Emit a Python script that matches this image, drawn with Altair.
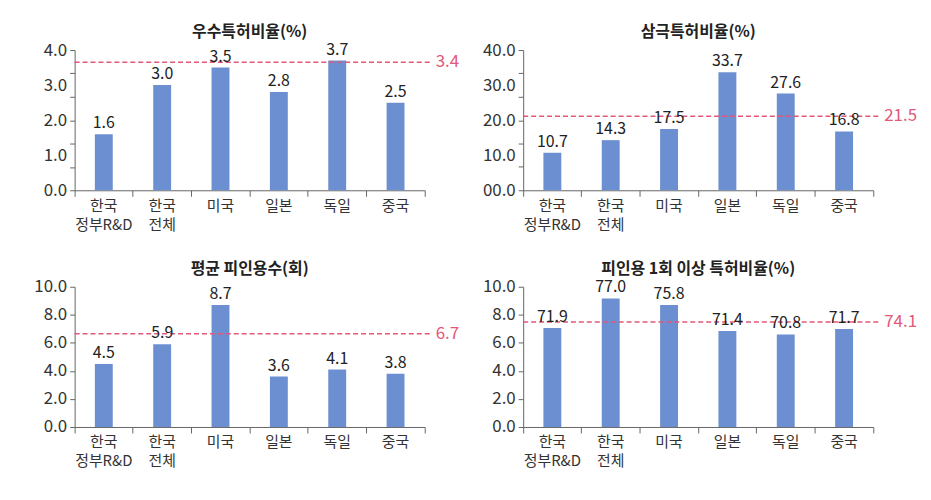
import altair as alt
import pandas as pd

FONT = "Noto Sans CJK KR"
BAR_COLOR = "#6b8fd0"
AVG_COLOR = "#e2577a"
AXIS_COLOR = "#666666"
TEXT_COLOR = "#222222"

categories = ["한국|정부R&D", "한국|전체", "미국", "일본", "독일", "중국"]

titles = ["우수특허비율(%)", "삼극특허비율(%)", "평균 피인용수(회)", "피인용 1회 이상 특허비율(%)"]

excellent_ratio = [1.6, 3.0, 3.5, 2.8, 3.7, 2.5]
triadic_ratio = [10.7, 14.3, 17.5, 33.7, 27.6, 16.8]
avg_citations = [4.5, 5.9, 8.7, 3.6, 4.1, 3.8]
cited_once_ratio = [71.9, 77.0, 75.8, 71.4, 70.8, 71.7]
# bar heights for the last panel as drawn against its 0-10 axis
cited_once_bar_height = [7.05, 9.17, 8.70, 6.84, 6.60, 6.98]

avg_labels = ["3.4", "21.5", "6.7", "74.1"]
# positions at which the dashed average lines are drawn (axis units)
avg_line_pos = [3.65, 21.1, 6.65, 7.48]

y_max = [4.0, 40.0, 10.0, 10.0]
y_label_values = [[0, 1, 2, 3, 4], [0, 10, 20, 30, 40], [0, 2, 4, 6, 8, 10], [0, 2, 4, 6, 8, 10]]
y_tick_values = [[0, 2 / 3, 4 / 3, 2, 8 / 3, 10 / 3, 4],
                 [0, 20 / 3, 40 / 3, 20, 80 / 3, 100 / 3, 40],
                 [0, 2, 4, 6, 8, 10],
                 [0, 2, 4, 6, 8, 10]]
zero_labels = ["0.0", "00.0", "0.0", "0.0"]

W = 352
H = 141


def any_match(vals):
    return "(" + " || ".join(f"abs(datum.value - {float(v)!r}) < 1e-6" for v in vals) + ")"


def panel(i, bar_vals, text_vals):
    df = pd.DataFrame({
        "cat": categories,
        "v": bar_vals,
        "lab": [f"{t:.1f}" for t in text_vals],
    })
    lab_vals = y_label_values[i]
    tick_vals = y_tick_values[i]
    all_vals = sorted(set([float(v) for v in lab_vals] + [float(v) for v in tick_vals]))
    label_expr = (
        f"datum.value == 0 ? '{zero_labels[i]}' : "
        f"({any_match(lab_vals)} ? format(datum.value, '.1f') : '')"
    )
    tick_test = f"!{any_match(tick_vals)}"

    x = alt.X(
        "cat:N", sort=categories,
        scale=alt.Scale(paddingInner=0, paddingOuter=0),
        axis=alt.Axis(
            title=None,
            labelExpr="isString(datum.value) ? split(datum.value, '|') : ''",
            labelAngle=0,
            bandPosition=1, tickExtra=True, tickSize=6, tickColor=AXIS_COLOR,
            domainColor=AXIS_COLOR, labelFontSize=15, labelLineHeight=19,
            labelPadding=2, labelColor="#333333", labelFont=FONT, labelBaseline="top",
            labelOverlap=False,
        ),
    )
    y_axis = alt.Axis(
        title=None, values=all_vals, labelExpr=label_expr, grid=False,
        tickSize=5, tickColor=AXIS_COLOR,
        tickOpacity={"condition": {"test": tick_test, "value": 0}, "value": 1},
        domainColor=AXIS_COLOR, labelFontSize=17, labelColor="#333333",
        labelFont=FONT, labelPadding=3, labelOverlap=False, labelFlush=False,
    )
    y_scale = alt.Scale(domain=[0, y_max[i]], nice=False, zero=True)
    y = alt.Y("v:Q", scale=y_scale, axis=y_axis)

    base = alt.Chart(df).encode(x=x, y=y)
    bars = base.mark_bar(size=18, color=BAR_COLOR)
    texts = base.mark_text(
        baseline="bottom", dy=-3, fontSize=16, font=FONT, color=TEXT_COLOR
    ).encode(text="lab:N")

    rdf = pd.DataFrame({"v": [avg_line_pos[i]], "lab": [avg_labels[i]]})
    rule = alt.Chart(rdf).mark_rule(
        color=AVG_COLOR, strokeDash=[5, 3], strokeWidth=1.5
    ).encode(y=y, x=alt.value(0), x2=alt.value(W + 8))
    rule_text = alt.Chart(rdf).mark_text(
        align="left", baseline="middle", fontSize=17, font=FONT, color=AVG_COLOR
    ).encode(y=y, x=alt.value(W + 11), text="lab:N")

    return alt.layer(bars, rule, texts, rule_text).properties(
        width=W, height=H,
        title=alt.TitleParams(
            titles[i], fontSize=16, fontWeight="bold", font=FONT,
            color=TEXT_COLOR, offset=1, anchor="middle",
        ),
    )


p1 = panel(0, excellent_ratio, excellent_ratio)
p2 = panel(1, triadic_ratio, triadic_ratio)
p3 = panel(2, avg_citations, avg_citations)
p4 = panel(3, cited_once_bar_height, cited_once_ratio)

chart = alt.concat(
    p1, p2, p3, p4, columns=2, spacing={"row": 97, "column": 99}, bounds="flush"
).properties(
    padding={"left": 25, "top": 15, "right": 5, "bottom": 5},
    background="white",
).configure_view(stroke=None)

chart.save("out.html", embed_options={"renderer": "svg", "actions": False})
